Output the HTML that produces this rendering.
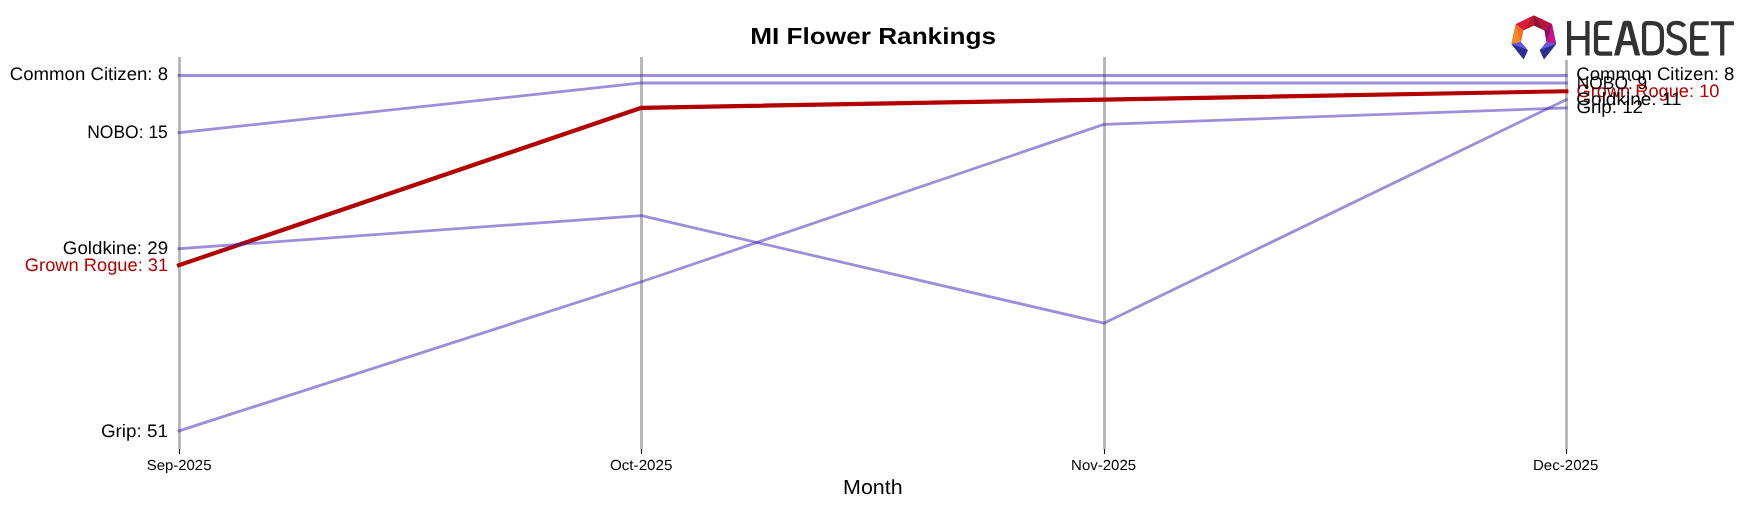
<!DOCTYPE html>
<html><head><meta charset="utf-8"><title>MI Flower Rankings</title>
<style>
html,body{margin:0;padding:0;background:#fff;}
body{width:1748px;height:507px;overflow:hidden;position:relative;}
svg{position:absolute;left:0;top:0;display:block;will-change:transform;}
text{font-family:"Liberation Sans",sans-serif;text-rendering:geometricPrecision;}
</style></head><body>
<svg width="1748" height="507" viewBox="0 0 1748 507">
<rect x="0" y="0" width="1748" height="507" fill="#fff"/>

<g stroke="rgb(128,128,128)" stroke-opacity="0.6" stroke-width="2.78">
<line x1="179.5" y1="57.0" x2="179.5" y2="449"/>
<line x1="641.5" y1="57.0" x2="641.5" y2="449"/>
<line x1="1104.5" y1="57.0" x2="1104.5" y2="449"/>
<line x1="1566.5" y1="59.9" x2="1566.5" y2="449"/>
</g>
<g stroke="#000" stroke-width="1.11">
<line x1="179.5" y1="449.1" x2="179.5" y2="454.0"/>
<line x1="641.5" y1="449.1" x2="641.5" y2="454.0"/>
<line x1="1104.5" y1="449.1" x2="1104.5" y2="454.0"/>
<line x1="1566.5" y1="449.1" x2="1566.5" y2="454.0"/>
</g>
<polyline points="179.00,265.22 641.45,107.84 1103.90,99.56 1566.35,91.28" fill="none" stroke="#b20000" stroke-width="4.17" stroke-linejoin="round" stroke-linecap="square"/>
<polyline points="179.00,75.50 641.45,75.50 1103.90,75.50 1566.35,75.50" fill="none" stroke="rgb(62,30,180)" stroke-opacity="0.5" stroke-width="2.78" stroke-linejoin="round" stroke-linecap="square"/>
<polyline points="179.00,132.69 641.45,82.99 1103.90,82.99 1566.35,82.99" fill="none" stroke="rgb(62,30,180)" stroke-opacity="0.5" stroke-width="2.78" stroke-linejoin="round" stroke-linecap="square"/>
<polyline points="179.00,248.66 641.45,215.53 1103.90,323.21 1566.35,99.56" fill="none" stroke="rgb(62,30,180)" stroke-opacity="0.5" stroke-width="2.78" stroke-linejoin="round" stroke-linecap="square"/>
<polyline points="179.00,430.89 641.45,281.79 1103.90,124.41 1566.35,107.84" fill="none" stroke="rgb(62,30,180)" stroke-opacity="0.5" stroke-width="2.78" stroke-linejoin="round" stroke-linecap="square"/>
<text id="l_gr" x="168.22" y="271.00" font-size="18.10" text-anchor="end" textLength="143.38" lengthAdjust="spacingAndGlyphs" fill="#b20000">Grown Rogue: 31</text>
<text id="l_cc" x="168.04" y="80.00" font-size="18.10" text-anchor="end" textLength="158.25" lengthAdjust="spacingAndGlyphs" fill="#000">Common Citizen: 8</text>
<text id="l_nobo" x="167.82" y="138.00" font-size="18.10" text-anchor="end" textLength="80.57" lengthAdjust="spacingAndGlyphs" fill="#000">NOBO: 15</text>
<text id="l_gold" x="168.13" y="254.00" font-size="18.10" text-anchor="end" textLength="105.31" lengthAdjust="spacingAndGlyphs" fill="#000">Goldkine: 29</text>
<text id="l_grip" x="167.91" y="437.00" font-size="18.10" text-anchor="end" textLength="66.98" lengthAdjust="spacingAndGlyphs" fill="#000">Grip: 51</text>
<text id="r_gr" x="1576.50" y="97.00" font-size="18.10" text-anchor="start" textLength="142.92" lengthAdjust="spacingAndGlyphs" fill="#b20000">Grown Rogue: 10</text>
<text id="r_cc" x="1576.29" y="80.00" font-size="18.10" text-anchor="start" textLength="158.18" lengthAdjust="spacingAndGlyphs" fill="#000">Common Citizen: 8</text>
<text id="r_nobo" x="1576.84" y="89.00" font-size="18.10" text-anchor="start" textLength="70.34" lengthAdjust="spacingAndGlyphs" fill="#000">NOBO: 9</text>
<text id="r_gold" x="1576.26" y="105.00" font-size="18.10" text-anchor="start" textLength="105.46" lengthAdjust="spacingAndGlyphs" fill="#000">Goldkine: 11</text>
<text id="r_grip" x="1576.42" y="113.00" font-size="18.10" text-anchor="start" textLength="66.58" lengthAdjust="spacingAndGlyphs" fill="#000">Grip: 12</text>
<text id="title" x="873.11" y="44.00" font-size="23.26" text-anchor="middle" textLength="245.77" lengthAdjust="spacingAndGlyphs" font-weight="bold" fill="#000">MI Flower Rankings</text>
<text id="month" x="872.83" y="494.00" font-size="20.35" text-anchor="middle" textLength="59.51" lengthAdjust="spacingAndGlyphs" fill="#000">Month</text>
<text id="t_sep" x="179.10" y="470.00" font-size="14.53" text-anchor="middle" textLength="64.73" lengthAdjust="spacingAndGlyphs" fill="#000">Sep-2025</text>
<text id="t_oct" x="641.20" y="470.00" font-size="14.53" text-anchor="middle" textLength="62.44" lengthAdjust="spacingAndGlyphs" fill="#000">Oct-2025</text>
<text id="t_nov" x="1103.65" y="470.00" font-size="14.53" text-anchor="middle" textLength="65.03" lengthAdjust="spacingAndGlyphs" fill="#000">Nov-2025</text>
<text id="t_dec" x="1565.64" y="470.00" font-size="14.53" text-anchor="middle" textLength="65.31" lengthAdjust="spacingAndGlyphs" fill="#000">Dec-2025</text>
<g id="logo">
<rect x="1505" y="10" width="236" height="49.9" fill="#fff"/>
<polygon points="1533.85,15.45 1551.9,24.0 1544.5,30.25 1533.85,25.6 1523.3,30.25 1515.7,24.3" fill="#c8183f"/>
<polygon points="1515.7,24.3 1523.3,30.25 1520.8,42.0 1511.5,44.0" fill="#f07a27"/>
<polygon points="1551.9,24.0 1556.1,44.0 1546.7,42.0 1544.5,30.25" fill="#aa1078"/>
<polygon points="1511.5,44.0 1520.8,42.0 1527.7,50.2 1523.6,59.2" fill="#3d3ab0"/>
<polygon points="1556.1,44.0 1546.7,42.0 1539.8,50.2 1544.0,59.2" fill="#3d3ab0"/>
<polygon points="1515.7,24.3 1533.85,15.45 1523.3,30.25" fill="#dc1c3c"/>
<polygon points="1533.85,15.45 1533.85,25.6 1523.3,30.25" fill="#c2162f"/>
<polygon points="1533.85,15.45 1533.85,25.6 1544.5,30.25" fill="#8a1636"/>
<polygon points="1533.85,15.45 1551.9,24.0 1544.5,30.25" fill="#b8123e"/>
<polygon points="1515.7,24.3 1511.5,44.0 1520.8,42.0" fill="#f5892a"/>
<polygon points="1515.7,24.3 1523.3,30.25 1520.8,42.0" fill="#ee6f24"/>
<polygon points="1551.9,24.0 1544.5,30.25 1546.7,42.0" fill="#8e0a66"/>
<polygon points="1551.9,24.0 1556.1,44.0 1546.7,42.0" fill="#c2168a"/>
<polygon points="1511.5,44.0 1520.8,42.0 1527.7,50.2" fill="#6659e0"/>
<polygon points="1511.5,44.0 1527.7,50.2 1523.6,59.2" fill="#2b2f8f"/>
<polygon points="1556.1,44.0 1546.7,42.0 1539.8,50.2" fill="#6659e0"/>
<polygon points="1556.1,44.0 1539.8,50.2 1544.0,59.2" fill="#2b2f8f"/>
<g fill="none" stroke="#333" stroke-width="4.2">
<path d="M1569.1,21V55.5M1587.45,21V55.5M1569.1,38H1587.45"/>
<path d="M1612.2,22.95H1600Q1596,22.95 1596,27V49.5Q1596,53.55 1600,53.55H1612.2M1596,38H1609.3"/>
<path d="M1644.05,26.5Q1644.05,23.05 1647.5,23.05H1652Q1661.95,23.05 1661.95,33V43.5Q1661.95,53.45 1652,53.45H1647.5Q1644.05,53.45 1644.05,50Z"/>
<path d="M1684.5,26.3C1682.5,23.8 1680,22.75 1676.6,22.75C1671.5,22.75 1668.65,25.5 1668.65,29.8C1668.65,34 1671.5,35.5 1675.5,36.8L1678.5,37.8C1682.5,39.2 1684.85,41.5 1684.85,46C1684.85,50.8 1681.5,53.45 1676.5,53.45C1672.5,53.45 1669.5,52 1667.2,49.5"/>
<path d="M1708.7,23.25H1696Q1692.15,23.25 1692.15,27V49.5Q1692.15,53.6 1696,53.6H1708.7M1692.15,38H1705.7"/>
<path d="M1710.9,23.25H1733.9M1722.2,23.25V55.5"/>
</g>
<path fill="#333" fill-rule="evenodd" d="M1614,55.5L1622.6,22.6Q1623.2,20.7 1625,20.7L1629,20.7Q1630.8,20.7 1631.4,22.6L1640.2,55.5L1634.9,55.5L1632.2,45.2L1621.95,45.2L1619.3,55.5ZM1623,41L1627,25.5L1631.1,41Z"/>
</g>

</svg>
</body></html>
